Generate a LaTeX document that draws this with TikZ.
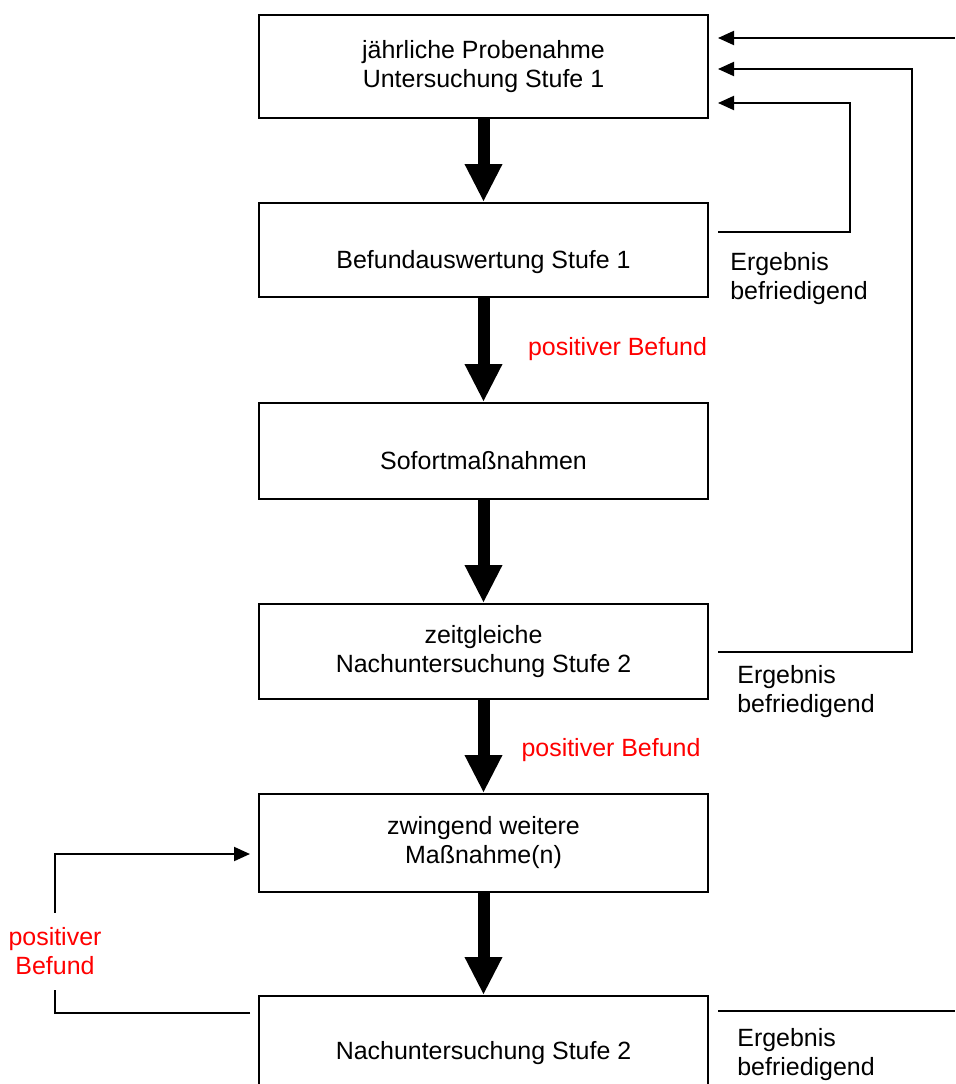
\documentclass[tikz,border=0pt]{standalone}
\usepackage{fontspec}
\setmainfont{Liberation Sans}
\usepackage{xcolor}
\usetikzlibrary{arrows.meta}

\newcommand\diafont{\fontsize{14.2}{16.5}\selectfont}

\begin{document}
\begin{tikzpicture}[
    box/.style={rectangle, draw, line width=0.04cm, minimum width=8.98cm, minimum height=1.9cm, align=center, font=\diafont},
    lowtext/.style={text height=0.84cm, text depth=0.1cm},
    bigarrow/.style={line width=0.24cm, -{Triangle[length=0.76cm, width=0.7cm]}},
    thinline/.style={line width=0.04cm},
    thinarrow/.style={line width=0.04cm, -{Triangle[length=0.32cm, width=0.28cm]}},
    redlabel/.style={text=red, align=center, font=\diafont},
    note/.style={anchor=west, align=left, inner sep=0pt, font=\diafont}
]
\useasboundingbox (0,0) rectangle (19.1,-21.68);
\clip (0,0) rectangle (19.1,-21.68);

\node[box, minimum height=2.06cm] (probe) at (9.67,-1.33) {j\"ahrliche Probenahme\\Untersuchung Stufe 1};
\node[box, lowtext, minimum height=1.88cm] (befund) at (9.67,-5.0) {Befundauswertung Stufe 1};
\node[box, lowtext, minimum height=1.92cm] (sofort) at (9.67,-9.02) {Sofortma\ss nahmen};
\node[box] (zeit) at (9.67,-13.03) {zeitgleiche\\Nachuntersuchung Stufe 2};
\node[box, minimum height=1.96cm] (weitere) at (9.67,-16.86) {zwingend weitere\\Ma\ss nahme(n)};
\node[box, lowtext, minimum height=1.8cm] (nach) at (9.67,-20.82) {Nachuntersuchung Stufe 2};

\draw[bigarrow] (probe) -- (befund);
\draw[bigarrow] (befund) -- (sofort);
\draw[bigarrow] (sofort) -- (zeit);
\draw[bigarrow] (zeit) -- (weitere);
\draw[bigarrow] (weitere) -- (nach);

\node[redlabel] (posbef1) at (12.35,-6.98) {positiver Befund};
\node[redlabel] (posbef2) at (12.22,-15.0) {positiver Befund};
\node[redlabel, inner sep=0pt, minimum height=1.54cm] (posbef3) at (1.1,-19.03) {positiver\\Befund};

\node[note] (erg1) at (14.6,-5.58) {Ergebnis\\befriedigend};
\node[note] (erg2) at (14.74,-13.83) {Ergebnis\\befriedigend};
\node[note] (erg3) at (14.74,-21.1) {Ergebnis\\befriedigend};

% Rueckfuehrungen rechts
\coordinate (rechtsoben) at (19.1,-0.76);
\coordinate (rechtsunten) at (19.1,-20.22);
\draw[thinarrow] (rechtsoben) -- ([xshift=0.18cm,yshift=0.57cm]probe.east);
\draw[thinarrow] ([xshift=0.18cm]zeit.east) -- ++(3.88,0) |- ([xshift=0.18cm,yshift=-0.05cm]probe.east);
\draw[thinarrow] ([xshift=0.18cm,yshift=0.36cm]befund.east) -- ++(2.64,0) |- ([xshift=0.18cm,yshift=-0.73cm]probe.east);
\draw[thinline] ([xshift=0.18cm,yshift=0.6cm]nach.east) -- (rechtsunten);

% Schleife links
\draw[thinline] ([xshift=-0.16cm,yshift=0.56cm]nach.west) -| (posbef3.south);
\draw[thinarrow] (posbef3.north) |- ([xshift=-0.16cm,yshift=-0.22cm]weitere.west);

\end{tikzpicture}
\end{document}
